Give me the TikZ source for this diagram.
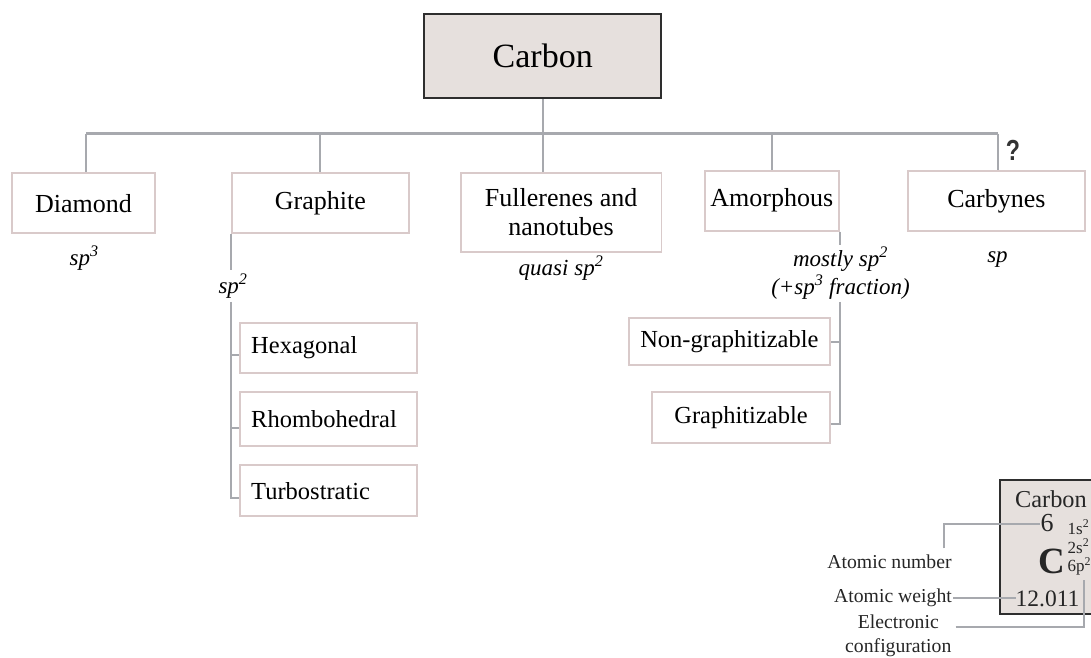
\documentclass[tikz,border=0pt]{standalone}
\usepackage{fontspec}
\setmainfont{Liberation Serif}
\newfontfamily\qfont{Liberation Sans}
\definecolor{boxc}{HTML}{D9CACA}
\definecolor{linec}{HTML}{A7A9AE}
\definecolor{darkc}{HTML}{2E2E2E}
\definecolor{carbfill}{HTML}{E6E0DD}
\begin{document}
\begin{tikzpicture}[x=1pt,y=-1pt,
  mainbox/.style={draw=boxc, line width=1.8pt, fill=white, inner sep=0pt, align=center, font=\fontsize{26}{29.5}\selectfont},
  subbox/.style={draw=boxc, line width=1.8pt, fill=white, inner sep=0pt, font=\fontsize{24.5}{28}\selectfont},
  leftbox/.style={subbox, text width=155pt, inner xsep=11pt, align=left},
  lbl/.style={inner sep=0pt, align=center, font=\fontsize{23}{28.3}\selectfont\itshape},
  conn/.style={draw=linec, line width=2pt},
  eltext/.style={inner sep=0pt, text=black!85},
  side/.style={inner sep=0pt, align=center, font=\fontsize{19.7}{24.3}\selectfont, text=black!85}]
\clip (0,0) rectangle (1091,657);
\fill[white] (0,0) rectangle (1091,657);

% top node
\node[draw=darkc, line width=2.2pt, fill=carbfill, minimum width=236.7pt, minimum height=84.3pt, inner sep=0pt,
      font=\fontsize{34}{40}\selectfont] (carbon) at (542.7,56.2) {Carbon};

% first row
\node[mainbox, minimum width=142.4pt, minimum height=60.3pt] (diamond) at (83.5,203.2) {Diamond};
\node[mainbox, minimum width=177.4pt, minimum height=60.3pt] (graphite) at (320.3,203.2) {Graphite};
\node[mainbox, minimum width=200.8pt, minimum height=78.7pt] (fuller) at (561.1,212.3) {Fullerenes and\\nanotubes};
\node[mainbox, minimum width=134.2pt, minimum height=60pt] (amorph) at (771.8,200.7) {Amorphous};
\node[mainbox, minimum width=177.3pt, minimum height=59.7pt] (carbyne) at (996.4,200.9) {Carbynes};

% hybridisation labels
\node[lbl] (spd) at (84.2,258.3) {sp\textsuperscript{3}};
\node[lbl] (spf) at (561,268) {quasi sp\textsuperscript{2}};
\node[lbl] (spc) at (997.5,260) {sp};
\node[lbl, minimum height=31.7pt] (spg) at (233,285.8) {sp\textsuperscript{2}};
\node[lbl, minimum height=56.7pt] (spa) at (840.5,273.3) {mostly sp\textsuperscript{2}\\(+sp\textsuperscript{3} fraction)};
\node[inner sep=0pt, font=\qfont\bfseries\fontsize{29}{30}\selectfont, text=black!80] (q) at (1013,150.5) {\scalebox{0.8}[1]{?}};

% graphite sub-boxes
\node[leftbox, minimum height=50pt] (hex) at (328.7,347.7) {Hexagonal};
\node[leftbox, minimum height=54.3pt] (rhombo) at (328.7,418.9) {Rhombohedral};
\node[leftbox, minimum height=50.7pt] (turbo) at (328.7,490.7) {Turbostratic};

% amorphous sub-boxes
\node[subbox, minimum width=201.5pt, minimum height=46.7pt] (nongr) at (729.4,341.7) {Non-graphitizable};
\node[subbox, minimum width=177.9pt, minimum height=51.6pt] (graphz) at (741,417.5) {Graphitizable};

% tree connectors
\coordinate (hl) at (86,133.5);
\coordinate (hr) at (998,133.5);
\draw[draw=linec, line width=3pt] (hl) -- (hr);
\draw[conn] (carbon.south) -- (carbon.south |- fuller.north);
\draw[conn] (hl) -- (hl |- diamond.north);
\draw[conn] (graphite.north |- hl) -- (graphite.north);
\draw[conn] (amorph.north |- hl) -- (amorph.north);
\draw[conn] (hr) -- (hr |- carbyne.north);

% graphite branch
\draw[conn] (graphite.south west) -- (graphite.south west |- spg.north);
\draw[conn] (graphite.south west |- spg.south) |- ([yshift=-7.4pt]turbo.west);
\draw[conn] ([yshift=-7pt]hex.west -| graphite.south west) -- ([yshift=-7pt]hex.west);
\draw[conn] ([yshift=-8.9pt]rhombo.west -| graphite.south west) -- ([yshift=-8.9pt]rhombo.west);

% amorphous branch
\draw[conn] (amorph.south east) -- (amorph.south east |- spa.north);
\draw[conn] (amorph.south east |- spa.south) |- ([yshift=-6.5pt]graphz.east);
\draw[conn] (nongr.east) -- (nongr.east -| amorph.south east);

% element card
\node[draw=darkc, line width=2pt, fill=carbfill, anchor=north west, minimum width=140pt, minimum height=134pt, inner sep=0pt] (elem) at (999.3,479.3) {};
\node[eltext, font=\fontsize{24.3}{26}\selectfont] (elname) at (1051,499) {Carbon};
\node[eltext, font=\fontsize{26}{28}\selectfont] (elz) at (1047,523.5) {6};
\node[eltext, anchor=west, font=\fontsize{17}{19}\selectfont] (el1s) at (1067.5,527) {1s\textsuperscript{2}};
\node[eltext, anchor=west, font=\fontsize{17}{19}\selectfont] (el2s) at (1067.5,546) {2s\textsuperscript{2}};
\node[eltext, anchor=west, font=\fontsize{17}{19}\selectfont] (el6p) at (1067.5,566.7) {6p\textsuperscript{2}};
\node[eltext, font=\fontsize{37}{40}\bfseries\selectfont] (elsym) at (1052,561) {C};
\node[eltext, font=\fontsize{23.5}{26}\selectfont] (elw) at (1047.5,598.5) {12.011};

% side labels
\node[side] (anum) at (889.5,561.7) {Atomic number};
\node[side] (awt) at (893,598) {Atomic weight};
\node[side] (econf) at (898.3,636) {Electronic\\configuration};
\coordinate (anumc) at (944,548.3);
\coordinate (econfc) at (955.7,627.3);
\coordinate (econfe) at (1084,580);
\draw[conn] (anumc) |- (elz.west);
\draw[conn] ([xshift=1pt]awt.east) -- ([xshift=1pt]awt.east -| elw.west);
\draw[conn] (econfc) -| (econfe);
\end{tikzpicture}
\end{document}
